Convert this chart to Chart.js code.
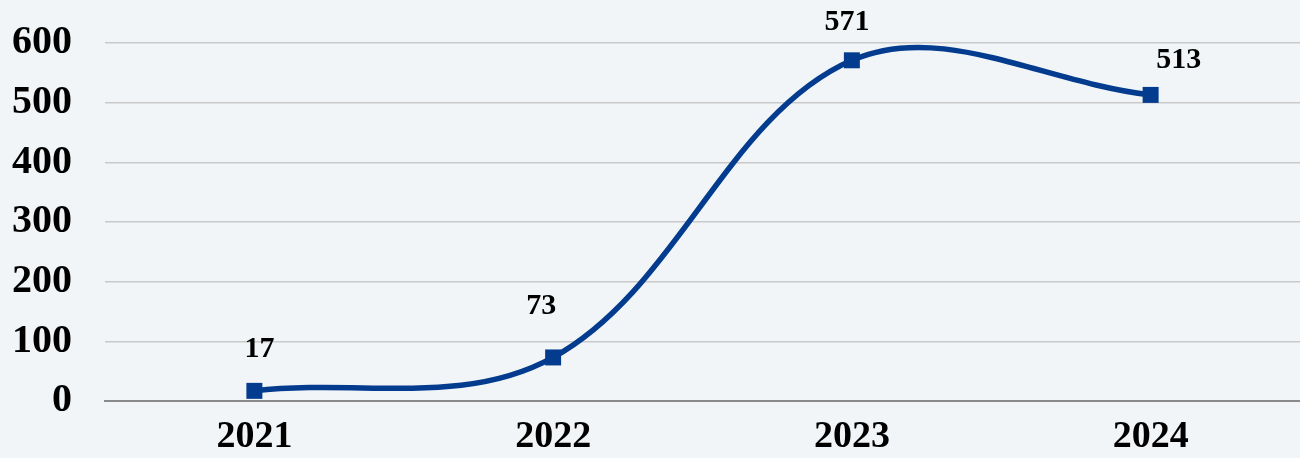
<!DOCTYPE html>
<html>
<head>
<meta charset="utf-8">
<script src="https://cdn.jsdelivr.net/npm/chart.js@4/dist/chart.umd.min.js"></script>
<style>
  html, body { margin: 0; padding: 0; background: #f2f5f7; }
  #wrap { width: 1300px; height: 458px; }
</style>
</head>
<body>
<div id="wrap"><canvas id="chart" width="1300" height="458"></canvas></div>
<script>
const years = ['2021', '2022', '2023', '2024'];
const values = [17, 73, 571, 513];
const yTicks = [0, 100, 200, 300, 400, 500, 600];

const lineColor = '#033c8e';
const serif = "'Liberation Serif', 'Times New Roman', serif";

// where each value label sits relative to its point
const labelOffsets = [[5, -42], [-12, -51], [-5, -38], [28, -35]];

const valueLabels = {
  id: 'valueLabels',
  afterDatasetsDraw(chart) {
    const ctx = chart.ctx;
    const meta = chart.getDatasetMeta(0);
    ctx.save();
    ctx.font = 'bold 30px ' + serif;
    ctx.fillStyle = '#000';
    ctx.textAlign = 'center';
    ctx.textBaseline = 'middle';
    meta.data.forEach((pt, i) => {
      const off = labelOffsets[i];
      ctx.fillText(String(values[i]), pt.x + off[0], pt.y + off[1]);
    });
    ctx.restore();
  }
};

new Chart(document.getElementById('chart'), {
  type: 'line',
  data: {
    labels: years,
    datasets: [{
      data: values,
      borderColor: lineColor,
      backgroundColor: lineColor,
      borderWidth: 5.5,
      tension: 0.36,
      capBezierPoints: false,
      clip: false,
      pointStyle: 'rect',
      pointRadius: 11.3,
      pointHoverRadius: 11.3,
      pointBorderWidth: 0
    }]
  },
  options: {
    responsive: false,
    animation: false,
    layout: { autoPadding: false, padding: { top: 43, right: 0, bottom: 0, left: 0 } },
    plugins: {
      legend: { display: false },
      tooltip: { enabled: false }
    },
    scales: {
      x: {
        offset: true,
        afterFit(scale) { scale.height = 57; },
        grid: { display: false, drawTicks: false },
        border: { display: true, color: '#8a8a8a', width: 2 },
        ticks: {
          color: '#000',
          font: { family: serif, size: 38, weight: 'bold' },
          padding: 13
        }
      },
      y: {
        min: 0,
        max: 600,
        afterFit(scale) { scale.width = 105; },
        afterBuildTicks(scale) { scale.ticks = yTicks.map(v => ({ value: v })); },
        border: { display: false },
        grid: {
          drawTicks: true,
          tickLength: 33,
          tickColor: 'rgba(0,0,0,0)',
          color: ctx => ctx.tick && ctx.tick.value === 0 ? '#8a8a8a' : '#c9c9c9',
          lineWidth: 1.5
        },
        ticks: {
          color: '#000',
          font: { family: serif, size: 40, weight: 'bold' },
          padding: 0
        }
      }
    }
  },
  plugins: [valueLabels]
});
</script>
</body>
</html>
